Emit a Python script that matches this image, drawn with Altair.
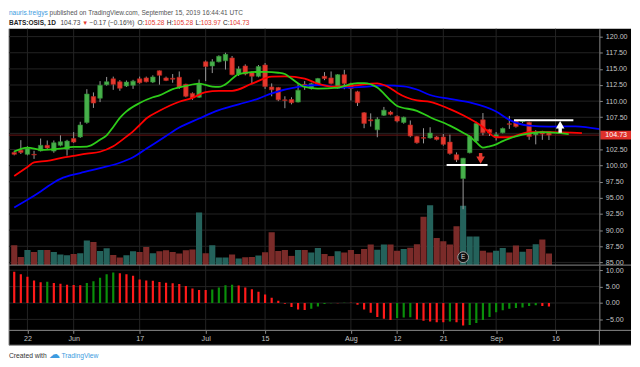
import altair as alt
import pandas as pd

# ---------------- data ----------------
day_index = list(range(-2, 80))   # trading-day index, 0 = 22 May 2019, 79 = 13 Sep 2019

opens = [102.05, 102.4, 101.75, 101.75, 102.3, 103.15, 102.25, 103.15, 102.55, 104.2,
         104.45, 106.7, 110.7, 110.45, 112.55, 113.45, 113.0, 112.35, 112.45, 113.45,
         113.6, 112.95, 114.7, 113.6, 113.55, 113.7, 112.6, 111.2, 110.6, 116.1,
         115.45, 116.1, 116.25, 116.7, 114.2, 115.45, 114.5, 113.85, 115.6, 112.2,
         112.1, 110.2, 110.25, 109.85, 112.6, 112.0, 112.55, 113.85, 113.6, 112.0,
         114.1, 112.7, 111.45, 108.2, 107.1, 105.55, 107.8, 108.3, 107.65, 106.7,
         106.3, 104.5, 104.35, 104.3, 104.45, 104.45, 103.65, 101.7, 98.0, 102.0,
         103.8, 107.1, 105.6, 104.4, 105.1, 106.5, 106.9, 106.85, 106.7, 104.8,
         105.3, 105.28]
highs = [102.3, 103.95, 103.0, 102.3, 104.2, 103.9, 103.9, 104.7, 104.0, 105.2,
         106.8, 111.85, 111.35, 113.1, 113.75, 113.8, 113.25, 113.2, 113.3, 113.8,
         113.8, 114.0, 114.75, 113.8, 114.2, 114.6, 112.7, 111.35, 113.35, 116.3,
         116.5, 117.1, 117.5, 117.0, 115.4, 115.7, 114.6, 115.6, 115.9, 112.75,
         112.2, 110.75, 110.6, 112.6, 113.1, 112.85, 113.6, 114.5, 114.6, 114.2,
         114.85, 112.85, 111.6, 108.3, 108.1, 107.5, 109.1, 108.5, 107.8, 107.6,
         107.0, 104.6, 105.8, 105.95, 104.6, 104.9, 104.8, 102.05, 101.2, 104.7,
         106.8, 108.15, 105.7, 105.2, 105.9, 107.7, 107.0, 107.0, 106.8, 105.5,
         105.4, 105.28]
lows = [101.6, 101.8, 101.6, 101.05, 102.2, 102.5, 102.0, 103.0, 101.55, 103.5,
        104.3, 106.5, 108.95, 109.85, 112.4, 111.75, 111.6, 112.2, 111.9, 112.7,
        112.9, 112.8, 112.55, 113.1, 112.85, 111.9, 110.6, 110.2, 110.5, 113.1,
        114.35, 116.0, 114.9, 114.0, 113.9, 114.0, 112.6, 113.7, 111.9, 110.75,
        110.0, 108.9, 109.5, 109.8, 111.75, 111.8, 112.5, 113.25, 112.6, 111.9,
        111.85, 110.1, 109.25, 105.8, 106.05, 104.4, 107.7, 107.8, 106.7, 106.5,
        104.4, 103.4, 103.45, 104.2, 103.9, 103.1, 101.7, 100.55, 93.25, 101.9,
        103.6, 104.7, 104.6, 103.9, 105.0, 105.7, 105.9, 106.6, 104.0, 103.3,
        104.0, 103.97]
closes = [101.75, 102.05, 102.7, 101.65, 103.15, 102.75, 103.55, 103.7, 103.8, 103.65,
          106.3, 111.1, 109.7, 112.45, 113.0, 112.6, 112.0, 112.95, 113.1, 112.85,
          113.0, 113.75, 114.0, 113.2, 113.4, 112.2, 110.75, 110.5, 112.75, 115.35,
          116.1, 116.95, 117.25, 114.1, 115.0, 114.2, 113.85, 115.35, 112.25, 111.75,
          110.2, 110.1, 109.75, 111.7, 112.45, 112.7, 113.5, 113.5, 112.75, 114.1,
          112.75, 111.95, 109.75, 106.55, 106.95, 107.2, 108.6, 107.95, 106.9, 107.5,
          104.6, 103.55, 104.25, 105.05, 104.05, 103.3, 101.9, 100.9, 101.15, 104.5,
          106.55, 105.1, 105.1, 104.8, 105.75, 106.4, 106.05, 106.95, 104.5, 105.2,
          104.9, 104.73]
volumes = [200, 83, 153, 133, 153, 153, 133, 107, 100, 113,
           120, 250, 233, 143, 170, 103, 77, 100, 140, 133,
           183, 120, 140, 150, 133, 117, 150, 157, 533, 120,
           200, 77, 77, 107, 67, 80, 83, 97, 130, 333,
           143, 153, 93, 153, 152, 128, 172, 111, 91, 141,
           128, 152, 111, 162, 209, 155, 209, 209, 145, 162,
           175, 212, 488, 606, 273, 242, 209, 394, 599, 290,
           290, 145, 128, 145, 172, 128, 199, 135, 162, 212,
           259, 118]   # thousands of shares
ao_values = [9.5, 8.8, 8.0, 6.9, 6.3, 6.45, 6.1, 5.9, 5.6, 5.5,
             5.4, 6.1, 6.6, 7.7, 8.8, 9.3, 9.1, 8.8, 8.3, 7.2,
             6.9, 6.8, 6.4, 6.2, 6.0, 5.8, 5.2, 4.4, 4.0, 3.95,
             4.1, 4.7, 5.4, 5.6, 5.3, 4.7, 4.2, 3.4, 2.6, 1.6,
             0.7, -0.2, -1.2, -1.95, -2.15, -1.75, -1.1, -0.3, -0.05, -0.1,
             0.1, 0.05, -0.5, -1.95, -3.0, -4.3, -4.8, -5.15, -4.6, -4.4,
             -4.35, -5.0, -5.45, -5.65, -5.85, -5.9, -5.65, -5.85, -6.9, -6.7,
             -6.1, -5.15, -4.3, -2.8, -2.25, -1.75, -1.55, -1.35, -0.95, -0.7,
             -0.95, -1.05]

# Alligator lines (jaw = blue, teeth = red, lips = green), read at sample days
jaw_idx = [-2, 0, 2, 4, 5, 8, 11, 14, 16, 18, 21, 23, 26, 29, 32, 35, 37, 41, 44, 48,
           51, 54, 57, 59, 61, 64, 67, 71, 73, 76, 79, 83, 87]
jaw_val = [93.5, 94.7, 96.0, 97.4, 97.95, 98.85, 99.6, 100.45, 101.3, 102.6, 104.6, 105.9,
           107.3, 108.6, 109.5, 110.4, 111.2, 112.2, 112.5, 112.1, 112.2, 112.45, 112.3,
           111.8, 110.95, 110.35, 109.8, 108.4, 107.1, 106.2, 106.05, 106.1, 105.6]
teeth_idx = [-2, -1, 0, 1, 3, 5, 7, 9, 11, 13, 15, 16, 17, 18, 20, 23, 25, 27, 29, 31,
             34, 37, 39, 42, 44, 46, 49, 53, 54, 55, 56, 59, 61, 64, 66, 69, 71, 73,
             76, 79, 84]
teeth_val = [98.4, 99.1, 99.8, 100.5, 100.75, 101.15, 101.5, 101.85, 102.15, 103.0, 104.5,
             105.3, 106.3, 107.3, 108.5, 109.9, 110.5, 111.4, 111.6, 111.6, 112.7, 113.8,
             113.85, 113.5, 112.7, 112.25, 112.35, 112.75, 112.5, 112.0, 111.3, 110.1,
             109.9, 108.75, 107.8, 106.0, 104.4, 104.4, 105.2, 105.2, 105.05]
lips_idx = [-2, 0, 2, 5, 7, 9, 11, 12, 13, 14, 15, 17, 19, 20, 22, 24, 26, 28, 29, 30,
            32, 34, 36, 38, 39, 40, 42, 44, 47, 50, 51, 53, 55, 56, 59, 61, 64, 66,
            67, 68, 69, 70, 71, 72, 75, 78, 82]
lips_val = [102.2, 102.8, 102.45, 102.65, 102.9, 102.95, 104.0, 104.7, 106.0, 107.4,
            108.4, 109.7, 110.6, 110.9, 111.85, 112.35, 112.7, 112.25, 112.2, 112.6,
            114.2, 114.5, 114.55, 114.4, 114.2, 113.5, 112.2, 111.95, 112.1, 112.8,
            112.8, 112.1, 110.1, 109.25, 108.5, 107.5, 106.2, 105.1, 104.5, 103.6,
            102.8, 103.0, 103.3, 103.8, 104.8, 105.2, 104.9]

price_grid = [85.0, 87.5, 90.0, 92.5, 95.0, 97.5, 100.0, 102.5, 105.0, 107.5,
              110.0, 112.5, 115.0, 117.5, 120.0]
price_labels = [85.0, 87.5, 90.0, 92.5, 95.0, 97.5, 100.0, 102.5, 107.5,
                110.0, 112.5, 115.0, 117.5, 120.0]
ao_ticks = [-5.0, 0.0, 5.0, 10.0]
x_tick_idx = [0, 7, 17, 27, 36, 49, 56, 63, 71, 80]
x_tick_lbl = ["22", "Jun", "17", "Jul", "15", "Aug", "12", "21", "Sep", "16"]

last_close = 104.73
support_i = [63.5, 69.7]
support_p = 100.1
resist_i = [73.7, 82.7]
resist_p = 107.05
down_arrow = {"i": 68.65, "top": 101.95, "bot": 101.2, "head": 100.85}
up_arrow = {"i": 80.7, "bot": 105.1, "top": 106.0, "head": 106.35}
earnings_idx = 66

# ---------------- style / layout ----------------
W, H1, H2, AXW, XLAB = 597, 239, 66, 32, 15
FONT = "Liberation Sans"
HF = 6.6   # header font size
GREEN, GREEN_EDGE = "#47b04b", "#2f8a33"
RED, RED_EDGE = "#e5392f", "#b0231c"
VOL_UP, VOL_DN = "#24625b", "#7a2b29"
AO_UP, AO_DN = "#0a8f0a", "#ff1a1a"
GRID = "#232323"
FRAME = "#8a8a8a"
LBL = "#c4c4c4"
WICK = "#9a9a9a"

XS = alt.Scale(domain=[-2.045, 85.89], nice=False, zero=False)
PS = alt.Scale(domain=[84.58, 121.22], nice=False, zero=False)
VS = alt.Scale(domain=[0, 2390], nice=False, zero=True)
AS = alt.Scale(domain=[-8.35, 11.56], nice=False, zero=False)

ONE = pd.DataFrame({"k": [0]})

df = pd.DataFrame({"i": day_index, "o": opens, "h": highs, "l": lows,
                   "c": closes, "v": volumes})
up = df["c"] >= df["o"]
df["body_col"] = up.map({True: GREEN, False: RED})
df["edge_col"] = up.map({True: GREEN_EDGE, False: RED_EDGE})
df["vol_col"] = up.map({True: VOL_UP, False: VOL_DN})

ao = pd.DataFrame({"i": day_index, "ao": ao_values})
ao_up = ao["ao"] > ao["ao"].shift(1)
ao["col"] = ao_up.map({True: AO_UP, False: AO_DN})

price_axis = alt.Axis(orient="right", values=price_labels, format=".2f", title=None,
                      grid=False, zindex=1, labelColor=LBL, labelFont=FONT,
                      labelFontSize=7.2, tickSize=3, tickColor=FRAME, domainColor=FRAME,
                      labelPadding=3, labelFlush=False)
ao_axis = alt.Axis(orient="right", values=ao_ticks, format=".2f", title=None,
                   grid=False, zindex=1, labelColor=LBL, labelFont=FONT,
                   labelFontSize=7.2, tickSize=3, tickColor=FRAME, domainColor=FRAME,
                   labelPadding=3, labelFlush=False)
lbl_expr = " : ".join(f"datum.value == {i} ? '{l}'" for i, l in zip(x_tick_idx, x_tick_lbl)) + " : ''"
x_axis = alt.Axis(orient="bottom", values=x_tick_idx, labelExpr=lbl_expr, title=None,
                  grid=False, zindex=1, domain=False, labelColor=LBL, labelFont=FONT,
                  labelFontSize=7.2, tickSize=3, tickColor=FRAME, labelPadding=1,
                  labelFlush=False)


def txt(s, x, y, color, size=HF, weight="normal", align="left"):
    return alt.Chart(ONE).mark_text(text=s, align=align, baseline="middle", fontSize=size,
                                    font=FONT, fontWeight=weight, color=color).encode(
        x=alt.value(x), y=alt.value(y))


def prule(x1, x2, y1, y2, color=FRAME, w=1):
    return alt.Chart(ONE).mark_rule(color=color, strokeWidth=w).encode(
        x=alt.value(x1), x2=alt.value(x2), y=alt.value(y1), y2=alt.value(y2))


# ---------------- price panel ----------------
bg1 = alt.Chart(ONE).mark_rect(color="black").encode(
    x=alt.value(0), x2=alt.value(W + AXW), y=alt.value(0), y2=alt.value(H1))

HD = "#444444"
DK = "#222222"
Y1, Y2 = -15.5, -6.3
header = [
    txt("nauris.treigys", 0, Y1, "#3d9be0"),
    txt("published on TradingView.com, September 15, 2019 16:44:41 UTC", 41, Y1, "#555555"),
    txt("BATS:OSIS, 1D", 0, Y2, DK, weight="bold"),
    txt("104.73", 52, Y2, HD),
    txt("\u25bc", 74, Y2, RED, size=6),
    txt("\u22120.17 (\u22120.16%)", 81.5, Y2, HD),
    txt("O:", 130, Y2, DK),
    txt("105.28", 137, Y2, RED),
    txt("H:", 159.5, Y2, DK),
    txt("105.28", 166, Y2, RED),
    txt("L:", 188.5, Y2, DK),
    txt("103.97", 194, Y2, RED),
    txt("C:", 216.5, Y2, DK),
    txt("104.73", 223, Y2, RED),
]
bg_group = alt.layer(bg1, prule(0, 0, 0, H1), *header)

hgrid1 = alt.Chart(pd.DataFrame({"p": price_grid})).mark_rule(color=GRID, strokeWidth=1).encode(
    y=alt.Y("p:Q", scale=PS, axis=None), x=alt.value(0), x2=alt.value(W))
vgrid1 = alt.Chart(pd.DataFrame({"i": x_tick_idx})).mark_rule(color=GRID, strokeWidth=1).encode(
    x=alt.X("i:Q", scale=XS, axis=None), y=alt.value(0), y2=alt.value(H1))
grid1 = alt.layer(hgrid1, vgrid1)

vol = alt.Chart(df).mark_bar(size=6.2, clip=True, orient="vertical").encode(
    x=alt.X("i:Q", scale=XS, axis=None),
    y=alt.Y("v:Q", scale=VS, axis=None),
    color=alt.Color("vol_col:N", scale=None))

close_line = alt.Chart(pd.DataFrame({"p": [last_close]})).mark_rule(
    color="#6a1515", strokeWidth=1).encode(
    y=alt.Y("p:Q", scale=PS, axis=price_axis), x=alt.value(0), x2=alt.value(W))

wicks = alt.Chart(df).mark_rule(color=WICK, strokeWidth=1, clip=True).encode(
    x=alt.X("i:Q", scale=XS, axis=None),
    y=alt.Y("l:Q", scale=PS, axis=price_axis), y2="h:Q")

bodies = alt.Chart(df).mark_bar(size=4.6, strokeWidth=0.6, clip=True, orient="vertical").encode(
    x=alt.X("i:Q", scale=XS, axis=None),
    y=alt.Y("o:Q", scale=PS, axis=price_axis), y2="c:Q",
    color=alt.Color("body_col:N", scale=None),
    stroke=alt.Stroke("edge_col:N", scale=None))


def ma_line(ix, vals, color):
    return alt.Chart(pd.DataFrame({"i": ix, "p": vals})).mark_line(
        color=color, strokeWidth=1.8, clip=True, interpolate="monotone").encode(
        x=alt.X("i:Q", scale=XS, axis=None),
        y=alt.Y("p:Q", scale=PS, axis=price_axis))


jaw = ma_line(jaw_idx, jaw_val, "#0000ff")
teeth = ma_line(teeth_idx, teeth_val, "#ff0000")
lips = ma_line(lips_idx, lips_val, "#2ecc1a")

levels = alt.Chart(pd.DataFrame({"i0": [support_i[0], resist_i[0]],
                                 "i1": [support_i[1], resist_i[1]],
                                 "p": [support_p, resist_p]})).mark_rule(
    color="white", strokeWidth=2).encode(
    x=alt.X("i0:Q", scale=XS, axis=None), x2="i1:Q",
    y=alt.Y("p:Q", scale=PS, axis=price_axis))

arrow_df = pd.DataFrame({"i": [down_arrow["i"], up_arrow["i"]],
                         "a": [down_arrow["top"], up_arrow["bot"]],
                         "b": [down_arrow["bot"], up_arrow["top"]],
                         "col": [RED, "#ffffff"]})
shafts = alt.Chart(arrow_df).mark_rule(strokeWidth=3.5).encode(
    x=alt.X("i:Q", scale=XS, axis=None),
    y=alt.Y("a:Q", scale=PS, axis=price_axis), y2="b:Q",
    color=alt.Color("col:N", scale=None))
head_dn = alt.Chart(pd.DataFrame({"i": [down_arrow["i"]], "p": [down_arrow["head"]]})).mark_point(
    shape="triangle-down", filled=True, size=75, color=RED, opacity=1).encode(
    x=alt.X("i:Q", scale=XS, axis=None), y=alt.Y("p:Q", scale=PS, axis=price_axis))
head_up = alt.Chart(pd.DataFrame({"i": [up_arrow["i"]], "p": [up_arrow["head"]]})).mark_point(
    shape="triangle-up", filled=True, size=75, color="#ffffff", opacity=1).encode(
    x=alt.X("i:Q", scale=XS, axis=None), y=alt.Y("p:Q", scale=PS, axis=price_axis))

earn_df = pd.DataFrame({"i": [earnings_idx], "t": ["E"]})
earn_dot = alt.Chart(earn_df).mark_point(shape="circle", filled=True, size=120, fill="#111111",
                                         stroke="#a0a0a0", strokeWidth=1, opacity=1).encode(
    x=alt.X("i:Q", scale=XS, axis=None), y=alt.value(H1 - 8))
earn_txt = alt.Chart(earn_df).mark_text(font=FONT, fontSize=6.5, color="#dddddd",
                                        baseline="middle", align="center").encode(
    x=alt.X("i:Q", scale=XS, axis=None), y=alt.value(H1 - 8), text="t:N")

lbl_box = alt.Chart(pd.DataFrame({"a": [last_close + 0.68], "b": [last_close - 0.68]})).mark_rect(
    color="#e0302a").encode(
    x=alt.value(W + 1), x2=alt.value(W + AXW),
    y=alt.Y("a:Q", scale=PS, axis=price_axis), y2="b:Q")
lbl_txt = alt.Chart(pd.DataFrame({"p": [last_close], "t": ["104.73"]})).mark_text(
    font=FONT, fontSize=7.2, color="white", align="left", baseline="middle").encode(
    x=alt.value(W + 6), y=alt.Y("p:Q", scale=PS, axis=price_axis), text="t:N")

price_core = alt.layer(close_line, wicks, bodies, jaw, teeth, lips, levels, shafts,
                       head_dn, head_up, earn_dot, earn_txt, lbl_box, lbl_txt)

price_panel = alt.layer(bg_group, grid1, vol, price_core).resolve_scale(
    y="independent").properties(width=W, height=H1)

# ---------------- oscillator panel ----------------
bg2 = alt.Chart(ONE).mark_rect(color="black").encode(
    x=alt.value(0), x2=alt.value(W + AXW), y=alt.value(0), y2=alt.value(H2 + XLAB))

hgrid2 = alt.Chart(pd.DataFrame({"p": ao_ticks})).mark_rule(color=GRID, strokeWidth=1).encode(
    y=alt.Y("p:Q", scale=AS, axis=ao_axis), x=alt.value(0), x2=alt.value(W))
vgrid2 = alt.Chart(pd.DataFrame({"i": x_tick_idx})).mark_rule(color=GRID, strokeWidth=1).encode(
    x=alt.X("i:Q", scale=XS, axis=x_axis), y=alt.value(0), y2=alt.value(H2))

ao_bars = alt.Chart(ao).mark_bar(size=2.2, clip=True, orient="vertical").encode(
    x=alt.X("i:Q", scale=XS, axis=x_axis),
    y=alt.Y("ao:Q", scale=AS, axis=ao_axis),
    color=alt.Color("col:N", scale=None))

frames2 = [
    prule(0, W + AXW, 0, 0),
    prule(0, W + AXW, H2, H2),
    prule(0, W + AXW, H2 + XLAB, H2 + XLAB),
    prule(0, 0, 0, H2 + XLAB),
    prule(W, W, H2, H2 + XLAB),
]
footer = [
    txt("Created with", 0, H2 + XLAB + 10.5, "#333333", size=6.8),
    txt("\u2601", 40, H2 + XLAB + 10, "#3d9be0", size=11),
    txt("TradingView", 53, H2 + XLAB + 10.5, "#3d9be0", size=6.8),
]

osc_panel = alt.layer(bg2, hgrid2, vgrid2, ao_bars, *frames2, *footer).properties(
    width=W, height=H2)

chart = alt.vconcat(price_panel, osc_panel, spacing=0, bounds="flush").properties(
    padding={"left": 0, "top": 0, "right": 0, "bottom": 0},
    background="white").configure_view(strokeWidth=0)

chart.save("out.html", embed_options={"renderer": "svg", "actions": False})
